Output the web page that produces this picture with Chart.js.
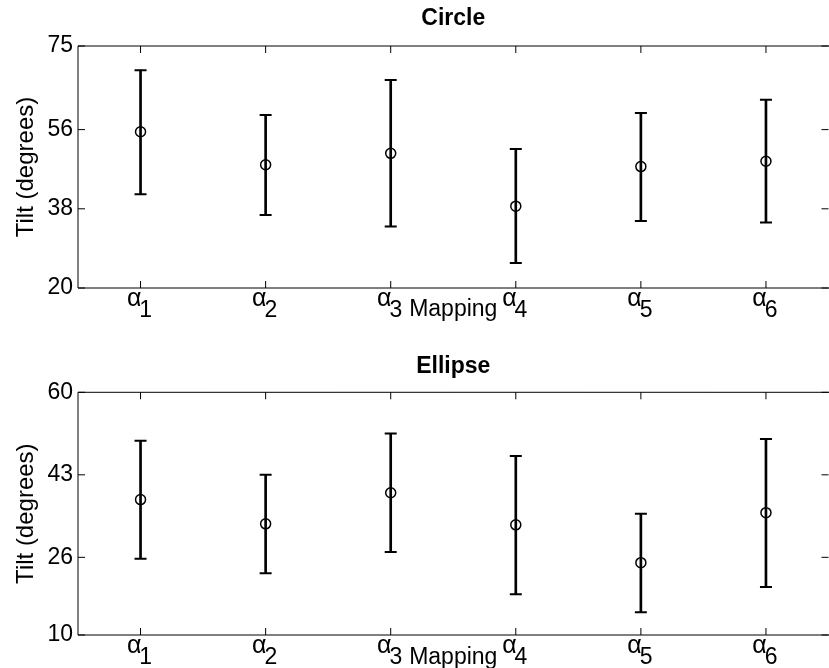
<!DOCTYPE html>
<html>
<head>
<meta charset="utf-8">
<script src="https://cdn.jsdelivr.net/npm/chart.js@4.4.0/dist/chart.umd.min.js"></script>
<style>
  html, body { margin: 0; padding: 0; background: #fff; }
  #wrap { position: relative; width: 829px; height: 668px; overflow: hidden; }
  canvas { position: absolute; left: 0; }
</style>
</head>
<body>
<div id="wrap">
  <canvas id="circle" width="829" height="334" style="top:0"></canvas>
  <canvas id="ellipse" width="829" height="334" style="top:334px"></canvas>
</div>
<script>
// mapping index (x) and subscript shown under each alpha
var mappings = [1, 2, 3, 4, 5, 6];
var mappingSubs = ['1', '2', '3', '4', '5', '6'];

// Circle panel
var circleMean = [55.5, 48.0, 50.6, 38.6, 47.6, 48.8];
var circleLow = [41.3, 36.6, 34.0, 25.7, 35.2, 34.9];
var circleHigh = [69.5, 59.3, 67.3, 51.6, 59.8, 62.8];
var circleTicks = [20, 38, 56, 75];

// Ellipse panel
var ellipseMean = [37.9, 32.9, 39.3, 32.7, 24.9, 35.2];
var ellipseLow = [25.7, 22.7, 27.1, 18.4, 14.7, 19.9];
var ellipseHigh = [50.0, 43.0, 51.5, 46.9, 35.0, 50.4];
var ellipseTicks = [10, 26, 43, 60];

var FONT = "'Liberation Sans', Arial, Helvetica, sans-serif";

function points(ys) {
  return mappings.map(function (x, i) { return { x: x, y: ys[i] }; });
}

function ranges(lo, hi) {
  return mappings.map(function (x, i) { return { x: x, y: [lo[i], hi[i]] }; });
}

// matlab style box: top/left/bottom lines, inward ticks, alpha_n labels
var matlabAxes = {
  id: 'matlabAxes',
  afterDraw: function (chart) {
    var ctx = chart.ctx, a = chart.chartArea;
    var xs = chart.scales.x, ys = chart.scales.y;
    var tl = 7;
    ctx.save();
    ctx.strokeStyle = '#000';
    ctx.lineWidth = 1;
    ctx.beginPath();
    ctx.moveTo(a.right + 2, a.top);
    ctx.lineTo(a.left, a.top);
    ctx.lineTo(a.left, a.bottom);
    ctx.lineTo(a.right + 2, a.bottom);
    xs.ticks.forEach(function (t) {
      var px = xs.getPixelForValue(t.value);
      ctx.moveTo(px, a.bottom);
      ctx.lineTo(px, a.bottom - tl);
      ctx.moveTo(px, a.top);
      ctx.lineTo(px, a.top + tl);
    });
    ys.ticks.forEach(function (t) {
      var py = ys.getPixelForValue(t.value);
      ctx.moveTo(a.left, py);
      ctx.lineTo(a.left + tl, py);
      ctx.moveTo(a.right, py);
      ctx.lineTo(a.right - tl, py);
    });
    ctx.stroke();

    // alpha with a lowered index digit under each tick
    ctx.fillStyle = '#000';
    ctx.textBaseline = 'alphabetic';
    ctx.textAlign = 'left';
    xs.ticks.forEach(function (t, i) {
      var px = xs.getPixelForValue(t.value);
      ctx.font = '25px ' + FONT;
      var wA = ctx.measureText('\u03B1').width - 2;
      ctx.font = '23px ' + FONT;
      var wD = ctx.measureText(mappingSubs[i]).width;
      var x0 = px - (wA + wD) / 2 - 1;
      ctx.fillText(mappingSubs[i], x0 + wA, a.bottom + 29);
      ctx.font = '25px ' + FONT;
      ctx.fillText('\u03B1', x0, a.bottom + 17.5);
    });
    ctx.restore();
  }
};

function makePanel(id, title, mean, lo, hi, yTicks, layout) {
  var ymin = yTicks[0], ymax = yTicks[yTicks.length - 1];
  return new Chart(document.getElementById(id), {
    type: 'scatter',
    data: {
      datasets: [{
        type: 'scatter',
        data: points(mean),
        pointStyle: 'circle',
        pointRadius: 5,
        pointBorderWidth: 1.5,
        pointBorderColor: '#000',
        pointBackgroundColor: 'rgba(0,0,0,0)'
      }, {
        type: 'scatter',
        data: points(hi),
        pointStyle: 'line',
        pointRadius: 6,
        pointBorderWidth: 2,
        pointBorderColor: '#000'
      }, {
        type: 'scatter',
        data: points(lo),
        pointStyle: 'line',
        pointRadius: 6,
        pointBorderWidth: 2,
        pointBorderColor: '#000'
      }, {
        type: 'bar',
        data: ranges(lo, hi),
        backgroundColor: '#000',
        borderWidth: 0,
        barThickness: 2
      }]
    },
    options: {
      responsive: false,
      animation: false,
      events: [],
      layout: { autoPadding: false, padding: { left: 0, right: 0.5, top: 0, bottom: 0 } },
      plugins: {
        legend: { display: false },
        tooltip: { enabled: false },
        title: {
          display: true,
          fullSize: false,
          text: title,
          color: '#000',
          font: { family: FONT, size: 23, weight: 'bold', lineHeight: 1.2 },
          padding: { top: layout.titleTop, bottom: layout.titleBottom }
        }
      },
      scales: {
        x: {
          type: 'linear',
          min: 0.5,
          max: 6.5,
          offset: false,
          grid: { display: false },
          border: { display: false },
          ticks: { display: false },
          afterBuildTicks: function (s) {
            s.ticks = mappings.map(function (v) { return { value: v }; });
          },
          afterFit: function (s) { s.height = layout.xHeight; },
          title: {
            display: true,
            text: 'Mapping',
            color: '#000',
            font: { family: FONT, size: 23, lineHeight: 1.2 },
            padding: { top: 0, bottom: layout.xTitlePad }
          }
        },
        y: {
          min: ymin,
          max: ymax,
          grid: { display: false, drawTicks: false },
          border: { display: false },
          afterBuildTicks: function (s) {
            s.ticks = yTicks.map(function (v) { return { value: v }; });
          },
          afterFit: function (s) { s.width = 78; },
          ticks: {
            color: '#000',
            padding: 5,
            font: { family: FONT, size: 23 }
          },
          title: {
            display: true,
            text: 'Tilt (degrees)',
            color: '#000',
            font: { family: FONT, size: 24, lineHeight: 1.2 },
            padding: { top: 12, bottom: 0 }
          }
        }
      }
    },
    plugins: [matlabAxes]
  });
}

makePanel('circle', 'Circle', circleMean, circleLow, circleHigh, circleTicks,
  { titleTop: 4.7, titleBottom: 13.7, xHeight: 46, xTitlePad: 11 });
makePanel('ellipse', 'Ellipse', ellipseMean, ellipseLow, ellipseHigh, ellipseTicks,
  { titleTop: 19.2, titleBottom: 11.5, xHeight: 33, xTitlePad: -3.3 });
</script>
</body>
</html>
